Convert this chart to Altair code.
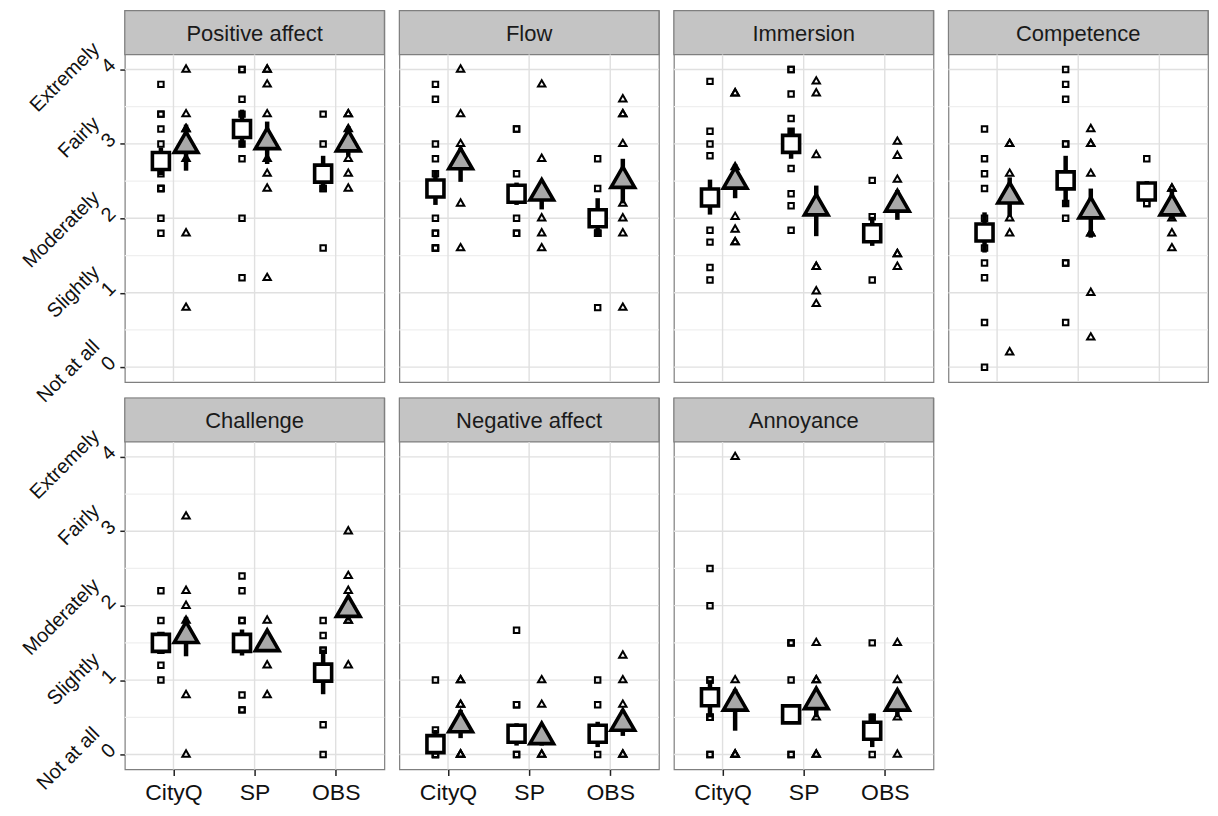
import json
import altair as alt
import pandas as pd

panels = ["Positive affect", "Flow", "Immersion", "Competence",
          "Challenge", "Negative affect", "Annoyance"]
conditions = ["CityQ", "SP", "OBS"]
y_words = ["Not at all", "Slightly", "Moderately", "Fairly", "Extremely"]
y_breaks = [0, 1, 2, 3, 4]
y_minor = [0.5, 1.5, 2.5, 3.5]

# individual ratings: one list per condition (CityQ, SP, OBS)
positive_sq = [[3.8, 3.4, 3.4, 3.2, 3.0, 2.8, 2.6, 2.4, 2.4, 2.4, 2.0, 1.8],
               [4.0, 4.0, 3.6, 3.4, 3.0, 2.8, 2.0, 1.2],
               [3.4, 3.0, 2.4, 2.4, 1.6]]
positive_tri = [[4.0, 3.4, 3.2, 3.2, 3.0, 2.8, 1.8, 0.8],
                [4.0, 4.0, 3.8, 3.4, 2.8, 2.6, 2.4, 1.2],
                [3.4, 3.4, 3.2, 2.8, 2.6, 2.4]]
flow_sq = [[3.8, 3.6, 3.0, 2.8, 2.6, 2.0, 1.8, 1.8, 1.6, 1.6, 1.6],
           [3.2, 3.2, 2.6, 2.0, 1.8, 1.8],
           [2.8, 2.4, 1.8, 1.8, 1.8, 0.8]]
flow_tri = [[4.0, 3.4, 3.0, 2.2, 1.6],
            [3.8, 2.8, 2.0, 1.8, 1.6],
            [3.6, 3.4, 3.4, 3.0, 2.2, 2.0, 1.8, 0.8]]
immersion_sq = [[3.84, 3.17, 3.0, 2.84, 1.84, 1.68, 1.34, 1.17],
                [4.0, 4.0, 3.67, 3.34, 3.17, 2.67, 2.33, 2.17, 1.84],
                [2.51, 2.02, 1.17]]
immersion_tri = [[3.68, 3.68, 2.69, 2.02, 1.85, 1.68, 1.68],
                 [3.84, 3.68, 2.85, 1.35, 1.35, 1.02, 0.85],
                 [3.03, 2.84, 2.52, 1.52, 1.52, 1.35]]
competence_sq = [[3.2, 2.8, 2.6, 2.4, 2.0, 1.6, 1.4, 1.2, 0.6, 0.0],
                 [4.0, 3.8, 3.6, 3.0, 3.0, 2.2, 2.0, 1.4, 1.4, 0.6],
                 [2.8, 2.2, 2.2]]
competence_tri = [[3.0, 3.0, 2.6, 2.0, 1.8, 0.2],
                  [3.2, 3.0, 3.0, 2.6, 1.8, 1.8, 1.0, 0.4],
                  [2.4, 2.4, 2.0, 1.8, 1.6]]
challenge_sq = [[2.2, 1.8, 1.6, 1.4, 1.2, 1.0],
                [2.4, 2.2, 1.8, 1.8, 0.8, 0.6, 0.6],
                [1.8, 1.6, 1.4, 1.4, 0.4, 0.0]]
challenge_tri = [[3.2, 2.2, 2.0, 1.8, 0.8, 0.0],
                 [1.8, 1.6, 1.2, 0.8],
                 [3.0, 2.4, 2.2, 1.8, 1.8, 1.2]]
negative_sq = [[1.0, 0.33, 0.0, 0.0, 0.0],
               [1.67, 0.67, 0.67, 0.0, 0.0],
               [1.0, 0.67, 0.0]]
negative_tri = [[1.0, 1.0, 0.67, 0.67, 0.0, 0.0, 0.0],
                [1.0, 0.67, 0.0, 0.0],
                [1.33, 1.0, 0.67, 0.0, 0.0]]
annoyance_sq = [[2.5, 2.0, 1.0, 1.0, 0.5, 0.5, 0.5, 0.0, 0.0],
                [1.5, 1.5, 1.5, 1.0, 0.0, 0.0],
                [1.5, 0.5, 0.0]]
annoyance_tri = [[4.0, 1.0, 0.0, 0.0, 0.0],
                 [1.5, 1.0, 1.0, 0.5, 0.0, 0.0],
                 [1.5, 1.0, 0.5, 0.0]]

# group means and error-bar ends, per panel (CityQ, SP, OBS)
sq_mean = [[2.77, 3.20, 2.60], [2.40, 2.33, 2.00], [2.28, 3.00, 1.80],
           [1.81, 2.51, 2.36], [1.50, 1.50, 1.10], [0.14, 0.28, 0.28],
           [0.77, 0.54, 0.32]]
sq_lo = [[2.58, 2.95, 2.38], [2.18, 2.18, 1.76], [2.05, 2.80, 1.63],
         [1.54, 2.16, 2.22], [1.38, 1.33, 0.81], [0.00, 0.12, 0.10],
         [0.50, 0.44, 0.10]]
sq_hi = [[2.95, 3.46, 2.84], [2.64, 2.48, 2.27], [2.52, 3.20, 2.02],
         [2.08, 2.84, 2.50], [1.62, 1.68, 1.41], [0.33, 0.42, 0.44],
         [1.00, 0.66, 0.55]]
tri_mean = [[2.97, 3.02, 2.99], [2.75, 2.33, 2.50], [2.49, 2.13, 2.18],
            [2.29, 2.09, 2.13], [1.59, 1.48, 1.94], [0.39, 0.23, 0.41],
            [0.68, 0.70, 0.68]]
tri_lo = [[2.64, 2.73, 2.84], [2.49, 2.12, 2.20], [2.27, 1.76, 1.98],
          [2.02, 1.74, 1.98], [1.32, 1.38, 1.80], [0.22, 0.12, 0.25],
          [0.32, 0.50, 0.50]]
tri_hi = [[3.26, 3.30, 3.24], [2.95, 2.50, 2.80], [2.73, 2.44, 2.38],
          [2.55, 2.40, 2.40], [1.85, 1.60, 2.10], [0.60, 0.38, 0.60],
          [0.88, 0.86, 0.75]]

sq_points = [positive_sq, flow_sq, immersion_sq, competence_sq,
             challenge_sq, negative_sq, annoyance_sq]
tri_points = [positive_tri, flow_tri, immersion_tri, competence_tri,
              challenge_tri, negative_tri, annoyance_tri]

DODGE = 0.155
rows = []
for p, name in enumerate(panels):
    for grp, src, off in (("sq", sq_points, -DODGE), ("tri", tri_points, DODGE)):
        for c in range(len(conditions)):
            for v in src[p][c]:
                rows.append({"panel": name, "grp": grp, "x": c + 1 + off, "value": v})
df_pts = pd.DataFrame(rows)

mrows = []
for p, name in enumerate(panels):
    for grp, m, lo, hi, off in (("sq", sq_mean, sq_lo, sq_hi, -DODGE),
                                ("tri", tri_mean, tri_lo, tri_hi, DODGE)):
        for c in range(len(conditions)):
            mrows.append({"panel": name, "grp": grp, "x": c + 1 + off,
                          "mean": m[p][c], "lo": lo[p][c], "hi": hi[p][c]})
df_means = pd.DataFrame(mrows)

W, S, H = 260, 44, 328
FONT = "Liberation Sans"
BORDER = "#7f7f7f"
STRIP = "#c4c4c4"
TRI_FILL = "#a8a8a8"

y_label_arr = json.dumps([[w, str(b)] for w, b in zip(y_words, y_breaks)])
x_label_arr = json.dumps(conditions)


def xs():
    return alt.Scale(domain=[0.4, len(conditions) + 0.6], nice=False, zero=False)


def ys():
    return alt.Scale(domain=[-0.2, 4.2], range=[S + H, S], nice=False, zero=False)


def y_axis():
    return alt.Axis(values=y_breaks, labelExpr=f"{y_label_arr}[round(datum.value)]",
                    title=None, grid=False, domain=False, labelAngle=315,
                    labelAlign="right", labelBaseline="bottom", labelFontSize=20,
                    labelLineHeight=23, labelPadding=17, labelOffset=-17,
                    labelOverlap=False, labelFlush=False, labelColor="#111111",
                    labelFont=FONT, tickSize=5, tickColor="#222222", tickWidth=1.5)


def x_axis():
    return alt.Axis(values=list(range(1, len(conditions) + 1)),
                    labelExpr=f"{x_label_arr}[round(datum.value) - 1]",
                    title=None, grid=False, domain=False, labelFontSize=23,
                    labelPadding=6, labelOverlap=False, labelFlush=False,
                    labelColor="#111111", labelFont=FONT, tickSize=6,
                    tickColor="#222222", tickWidth=1.5)


def panel_chart(name, show_y, show_x):
    def XA(field):
        return alt.X(field, scale=xs(), axis=x_axis() if show_x else None)

    def YA(field):
        return alt.Y(field, scale=ys(), axis=y_axis() if show_y else None)

    lab = pd.DataFrame({"panel": [name]})
    strip_bg = alt.Chart(lab).mark_rect(fill=STRIP, stroke=BORDER, strokeWidth=1.2).encode(
        x=alt.value(0), x2=alt.value(W), y=alt.value(0), y2=alt.value(S))
    strip_txt = alt.Chart(lab).mark_text(fontSize=22, font=FONT, color="#1a1a1a",
                                         baseline="middle", align="center").encode(
        x=alt.value(W / 2), y=alt.value(S / 2 + 1), text="panel:N")
    minor = alt.Chart(pd.DataFrame({"y": y_minor})).mark_rule(
        color="#efefef", strokeWidth=1.2).encode(
        y=YA("y:Q"), x=alt.value(0), x2=alt.value(W))
    major = alt.Chart(pd.DataFrame({"y": y_breaks})).mark_rule(
        color="#e0e0e0", strokeWidth=1.4).encode(
        y=YA("y:Q"), x=alt.value(0), x2=alt.value(W))
    vgrid = alt.Chart(pd.DataFrame({"x": list(range(1, len(conditions) + 1))})).mark_rule(
        color="#e0e0e0", strokeWidth=1.4).encode(
        x=XA("x:Q"), y=alt.value(S), y2=alt.value(S + H))

    pts = alt.Chart(df_pts)
    small_sq = pts.transform_filter(
        f"datum.panel == '{name}' && datum.grp == 'sq'").mark_point(
        shape="square", size=30, filled=False, color="black", strokeWidth=2,
        opacity=1).encode(x=XA("x:Q"), y=YA("value:Q"))
    small_tri = pts.transform_filter(
        f"datum.panel == '{name}' && datum.grp == 'tri'").mark_point(
        shape="triangle-up", size=55, filled=False, color="black", strokeWidth=2,
        opacity=1, yOffset=-1).encode(x=XA("x:Q"), y=YA("value:Q"))
    mns = alt.Chart(df_means).transform_filter(f"datum.panel == '{name}'")
    err = mns.mark_rule(color="black", strokeWidth=4.5).encode(
        x=XA("x:Q"), y=YA("lo:Q"), y2="hi:Q")
    big_sq = mns.transform_filter("datum.grp == 'sq'").mark_point(
        shape="square", size=290, filled=True, fill="white", stroke="black",
        strokeWidth=3.6, opacity=1).encode(x=XA("x:Q"), y=YA("mean:Q"))
    big_tri = mns.transform_filter("datum.grp == 'tri'").mark_point(
        shape="triangle-up", size=560, filled=True, fill=TRI_FILL, stroke="black",
        strokeWidth=3.6, opacity=1, yOffset=-4, strokeJoin="miter").encode(
        x=XA("x:Q"), y=YA("mean:Q"))
    return alt.layer(strip_bg, minor, major, vgrid, small_sq, small_tri, err,
                     big_sq, big_tri, strip_txt).properties(width=W, height=S + H)


charts = [panel_chart(panels[i], i in (0, 4), i >= 4) for i in range(len(panels))]
chart = alt.concat(*charts, columns=4, bounds="flush",
                   spacing=alt.RowColnumber(row=16, column=15)).properties(
    padding={"left": 10, "top": 0, "right": 0, "bottom": 0},
    background="white"
).configure_view(stroke=BORDER, strokeWidth=1.2)

chart.save("out.html", embed_options={"renderer": "svg", "actions": False})
